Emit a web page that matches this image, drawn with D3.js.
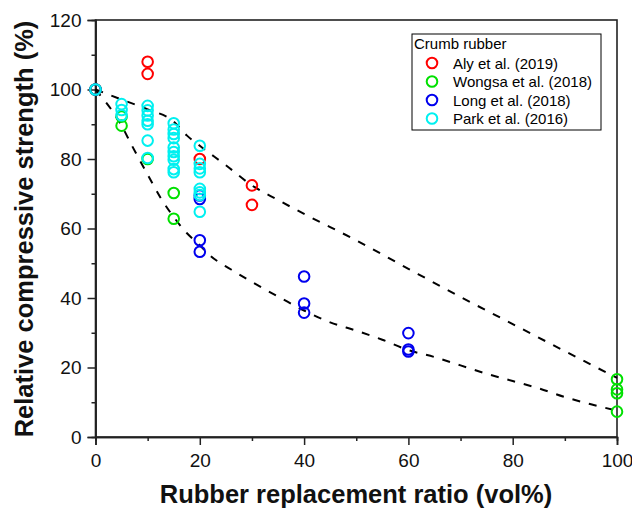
<!DOCTYPE html>
<html>
<head>
<meta charset="utf-8">
<script src="https://cdn.jsdelivr.net/npm/d3@7"></script>
<style>
  html, body { margin: 0; padding: 0; background: #fff; }
  svg { display: block; font-family: Arial, "Liberation Sans", sans-serif; }
</style>
</head>
<body>
<svg id="chart" width="632" height="508"></svg>
<script>
// ---- data ----
const seriesNames = ["Aly et al. (2019)", "Wongsa et al. (2018)", "Long et al. (2018)", "Park et al. (2016)"];
const seriesColors = ["#ff0000", "#00e000", "#0000ee", "#00f0f0"];

const alyX = [0, 10, 10, 20, 30, 30];
const alyY = [100, 108, 104.5, 80, 72.4, 66.8];

const wongsaX = [0, 5, 5, 10, 15, 15, 100, 100, 100, 100];
const wongsaY = [100, 92.2, 89.6, 80, 70.2, 62.8, 16.6, 13.7, 12.6, 7.3];

const longX = [0, 20, 20, 20, 20, 40, 40, 40, 60, 60, 60];
const longY = [100, 69.5, 68.5, 56.6, 53.3, 46.2, 38.4, 35.8, 29.9, 25.2, 24.6];

const parkX = [0, 5, 5, 5, 10, 10, 10, 10, 10, 10, 10,
               15, 15, 15, 15, 15, 15, 15, 15, 15, 15,
               20, 20, 20, 20, 20, 20, 20, 20];
const parkY = [100, 95.8, 94.1, 92.6, 95.3, 94.0, 92.5, 91.0, 90.0, 85.3, 80.3,
               90.3, 88.5, 87.2, 86.0, 83.3, 82.0, 80.8, 79.8, 77.1, 76.2,
               83.8, 78.6, 77.3, 76.2, 71.4, 70.4, 69.6, 64.8];

const upperX = [0, 5, 10, 15, 17.5, 20, 25, 30, 35, 40, 50, 60, 70, 80, 90, 100];
const upperY = [100, 97.1, 94.3, 90.8, 86.8, 83.8, 78.2, 72.4, 68.2, 64.2, 56.6, 48.4, 40.3, 32.5, 24.7, 17.0];

const lowerX = [0, 5, 7, 10, 12.5, 15, 17.5, 20, 22, 26, 30, 36, 40, 45, 50, 55, 60, 65, 70, 75, 80, 85, 90, 95, 100];
const lowerY = [100, 89.6, 83.8, 75.5, 68.8, 63.3, 58.7, 55.2, 52.2, 48.2, 44.6, 39.6, 36.4, 33.0, 30.6, 28.0, 25.0, 23.0, 20.6, 18.2, 16.1, 14.0, 11.5, 9.4, 7.6];

const xTicks = [0, 20, 40, 60, 80, 100];
const yTicks = [0, 20, 40, 60, 80, 100, 120];
const xMinorTicks = [10, 30, 50, 70, 90];
const yMinorTicks = [10, 30, 50, 70, 90, 110];

const xTitle = "Rubber replacement ratio (vol%)";
const yTitle = "Relative compressive strength (%)";
const legendTitle = "Crumb rubber";

// ---- layout ----
const svg = d3.select("#chart");
const L = 95.5, R = 617, T = 20, B = 437;
const x = d3.scaleLinear().domain([0, 100]).range([L, R]);
const y = d3.scaleLinear().domain([0, 120]).range([B, T]);

// frame
svg.append("rect").attr("x", L).attr("y", T).attr("width", R - L).attr("height", B - T)
  .attr("fill", "none").attr("stroke", "#222").attr("stroke-width", 1.6);

// axes
const xAxis = svg.append("g").attr("transform", `translate(0,${B})`)
  .call(d3.axisBottom(x).tickValues(xTicks).tickSize(8).tickPadding(9).tickFormat(d3.format("d")));
const xMinor = svg.append("g").attr("transform", `translate(0,${B})`)
  .call(d3.axisBottom(x).tickValues(xMinorTicks).tickSize(4).tickFormat(""));
const yAxis = svg.append("g").attr("transform", `translate(${L},0)`)
  .call(d3.axisLeft(y).tickValues(yTicks).tickSize(8).tickPadding(6).tickFormat(d3.format("d")));
const yMinor = svg.append("g").attr("transform", `translate(${L},0)`)
  .call(d3.axisLeft(y).tickValues(yMinorTicks).tickSize(4).tickFormat(""));

[xAxis, xMinor, yAxis, yMinor].forEach(g => {
  g.select(".domain").attr("stroke", "#222").attr("stroke-width", 1.6);
  g.selectAll(".tick line").attr("stroke", "#222").attr("stroke-width", 1.5);
  g.selectAll(".tick text").attr("font-size", 19).attr("fill", "#111")
    .attr("font-family", "Arial, 'Liberation Sans', sans-serif");
});

// axis titles
svg.append("text").attr("x", 356).attr("y", 503)
  .attr("text-anchor", "middle").attr("font-size", 25.5).attr("font-weight", "bold").attr("fill", "#111")
  .text(xTitle);
svg.append("text").attr("transform", `translate(33,229) rotate(-90)`)
  .attr("text-anchor", "middle").attr("font-size", 25.5).attr("font-weight", "bold").attr("fill", "#111")
  .text(yTitle);

// fitted dashed curves
const line = d3.line().x(d => x(d[0])).y(d => y(d[1])).curve(d3.curveMonotoneX);
[[upperX, upperY], [lowerX, lowerY]].forEach(([xs, ys]) => {
  svg.append("path").datum(xs.map((v, i) => [v, ys[i]]))
    .attr("d", line).attr("fill", "none").attr("stroke", "#000")
    .attr("stroke-width", 2).attr("stroke-dasharray", "8,9");
});

// scatter points
const series = [[alyX, alyY], [wongsaX, wongsaY], [longX, longY], [parkX, parkY]];
series.forEach(([xs, ys], si) => {
  svg.append("g").selectAll("circle").data(xs.map((v, i) => [v, ys[i]])).join("circle")
    .attr("cx", d => x(d[0])).attr("cy", d => y(d[1])).attr("r", 5.3)
    .attr("fill", "none").attr("stroke", seriesColors[si]).attr("stroke-width", 2);
});

// legend
const lg = svg.append("g");
lg.append("rect").attr("x", 412).attr("y", 34).attr("width", 189).attr("height", 96)
  .attr("fill", "#fff").attr("stroke", "#000").attr("stroke-width", 1);
lg.append("text").attr("x", 414).attr("y", 49).attr("font-size", 15).attr("fill", "#000").text(legendTitle);
seriesNames.forEach((name, i) => {
  const cy = 63 + i * 18.5;
  lg.append("circle").attr("cx", 432).attr("cy", cy).attr("r", 5.3)
    .attr("fill", "none").attr("stroke", seriesColors[i]).attr("stroke-width", 2);
  lg.append("text").attr("x", 453).attr("y", cy + 5.5).attr("font-size", 15).attr("fill", "#000").text(name);
});
</script>
</body>
</html>
